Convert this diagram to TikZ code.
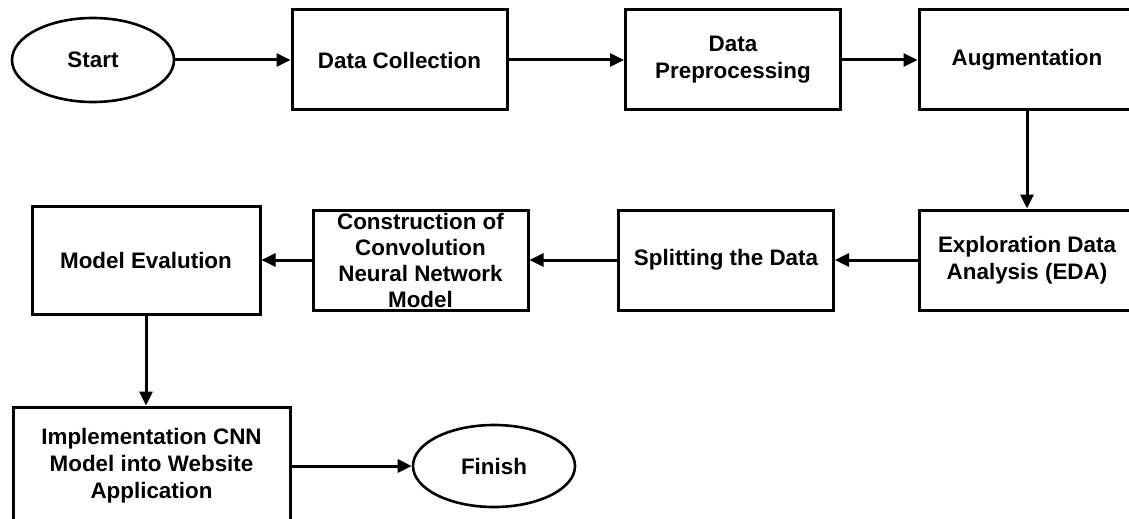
\documentclass[tikz,border=0pt]{standalone}
\usepackage{fontspec}
\setmainfont{Liberation Sans}
\usepackage{tikz}
\usetikzlibrary{arrows.meta,shapes.geometric}

\begin{document}
\begin{tikzpicture}[
    x=0.5pt, y=-0.5pt,
    >={Triangle[length=7pt,width=6.5pt]},
    font=\fontsize{11.2}{13.4}\selectfont\bfseries,
    stepbox/.style={
        draw,
        line width=1.5pt,
        rectangle,
        align=center,
        inner sep=0pt,
        minimum width=107.5pt,
        minimum height=50pt
    },
    terminal/.style={
        draw,
        line width=1.3pt,
        ellipse,
        inner sep=0pt,
        minimum width=81pt,
        minimum height=42pt
    },
    flow/.style={
        ->,
        line width=1.5pt
    }
]

\useasboundingbox (0,0) rectangle (1129,519);

% Baris atas

\node[terminal] (start) at (93,60) {Start};

\node[stepbox] (collect) at (399.5,60) {Data Collection};

\node[stepbox] (preproc) at (733,60) {Data\\Preprocessing};

\node[stepbox, minimum width=108pt] (augment) at (1027,60) {Augmentation};


% Baris tengah

\node[stepbox, minimum width=108pt] (eda) at (1027,260)
    {Exploration Data\\Analysis (EDA)};

\node[stepbox] (split) at (726,260) {Splitting the Data};

\node[stepbox, font=\fontsize{11.2}{13}\selectfont\bfseries] (construct) at (420.5,260)
    {Construction of\\Convolution\\Neural Network\\Model};

\node[stepbox, minimum width=114pt, minimum height=54pt] (evalu) at (146,260)
    {Model Evalution};


% Baris bawah

\node[stepbox, minimum width=138.5pt, minimum height=59pt] (implement) at (151.5,466)
    {Implementation CNN\\Model into Website\\Application};

\node[terminal, minimum height=41pt] (finish) at (494,466) {Finish};


% Panah

\draw[flow] (start) -- (collect);
\draw[flow] (collect) -- (preproc);
\draw[flow] (preproc) -- (augment);
\draw[flow] (augment) -- (eda);
\draw[flow] (eda) -- (split);
\draw[flow] (split) -- (construct);
\draw[flow] (construct) -- (evalu);
\draw[flow] (evalu.south) -- (evalu.south |- implement.north);
\draw[flow] (implement) -- (finish);

\end{tikzpicture}
\end{document}
